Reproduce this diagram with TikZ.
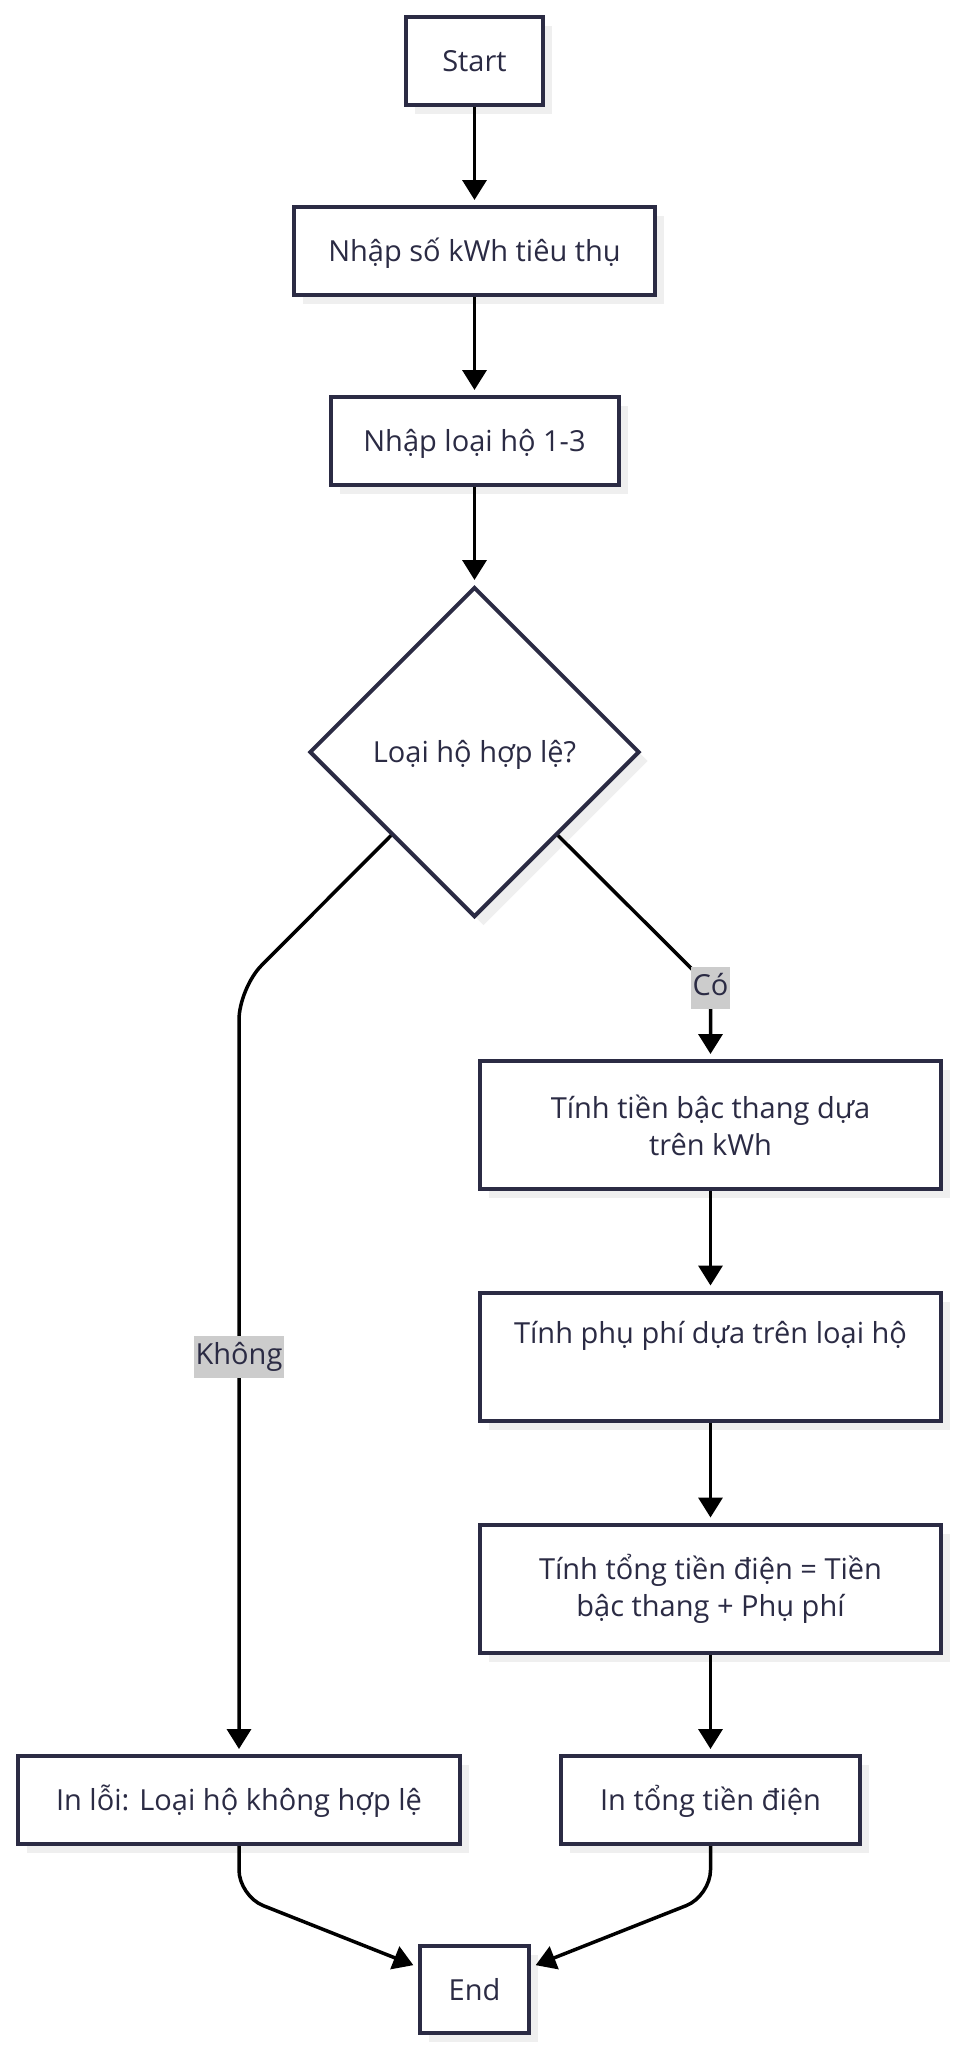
\documentclass[tikz,border=0pt]{standalone}
\usepackage{fontspec}
\setmainfont{Open Sans}
\usetikzlibrary{shapes.geometric,arrows.meta,shadows,calc}
\definecolor{ink}{HTML}{2B2B44}
\definecolor{shade}{HTML}{EFEFEF}
\definecolor{lbl}{HTML}{CCCCCC}
\tikzset{
  base/.style={draw=ink, line width=4pt, fill=white, inner sep=0pt, text=ink,
    font=\fontsize{29pt}{37pt}\selectfont,
    general shadow={fill=shade, shadow xshift=9pt, shadow yshift=-9pt}},
  box/.style={base, rectangle},
  one/.style={text height=21pt, text depth=0pt},
  dia/.style={base, diamond, aspect=1, minimum width=330pt, minimum height=330pt},
  flow/.style={line width=3.5pt, draw=black, -{Triangle[length=20pt,width=24pt]}, shorten >=5pt},
  lab/.style={fill=lbl, text=ink, inner xsep=2pt, inner ysep=6pt, text height=22pt, text depth=8pt,
    font=\fontsize{29pt}{37pt}\selectfont}
}
\begin{document}
\begin{tikzpicture}[x=1pt,y=-1pt]
\fill[white] (0,0) rectangle (959,2051);
\useasboundingbox (0,0) rectangle (959,2051);
% nodes
\node[box,one,minimum width=137pt,minimum height=88pt] (start) at (474.5,61) {Start};
\node[box,one,minimum width=361pt,minimum height=88pt] (in1) at (474.5,251) {Nhập số kWh tiêu thụ};
\node[box,one,minimum width=288pt,minimum height=88pt] (in2) at (474.5,441) {Nhập loại hộ 1-3};
\node[dia,one] (dec) at (474.5,752) {Loại hộ hợp lệ?};
\node[box,align=center,minimum width=461pt,minimum height=128pt] (calc1) at (710.5,1125) {Tính tiền bậc thang dựa\\trên kWh};
\node[box,align=center,minimum width=461pt,minimum height=128pt] (calc2) at (710.5,1356.5) {Tính phụ phí dựa trên loại hộ\\\strut};
\node[box,align=center,minimum width=461pt,minimum height=128pt] (calc3) at (710.5,1588.5) {Tính tổng tiền điện = Tiền\\bậc thang + Phụ phí};
\node[box,one,minimum width=442pt,minimum height=88pt] (err) at (239,1800) {In lỗi: Loại hộ không hợp lệ};
\node[box,one,minimum width=299pt,minimum height=88pt] (out) at (710.5,1800) {In tổng tiền điện};
\node[box,one,minimum width=109pt,minimum height=87pt] (end) at (474.5,1989.5) {End};
% waypoints
\coordinate (cyes) at (710.5,987.5);
\coordinate (cno) at (239,988);
\coordinate (bl) at (239,1896);
\coordinate (br) at (710.5,1896);
% connectors
\draw[flow] (start) -- (in1);
\draw[flow] (in1) -- (in2);
\draw[flow] (in2) -- (dec);
\draw[flow, rounded corners=12pt] (dec.-45) -- (cyes) -- (calc1.north);
\draw[flow, rounded corners=32pt] (dec.-135) -- (cno) -- (err.north);
\draw[flow] (calc1) -- (calc2);
\draw[flow] (calc2) -- (calc3);
\draw[flow] (calc3) -- (out);
\draw[flow, rounded corners=26pt] (err.south) -- (bl) -- ($(end.north west)+(0,23)$);
\draw[flow, rounded corners=26pt] (out.south) -- (br) -- ($(end.north east)+(0,23)$);
% labels
\node[lab] (yes) at (710.5,988) {Có};
\node[lab] (no) at (239,1357) {Không};
\end{tikzpicture}
\end{document}
